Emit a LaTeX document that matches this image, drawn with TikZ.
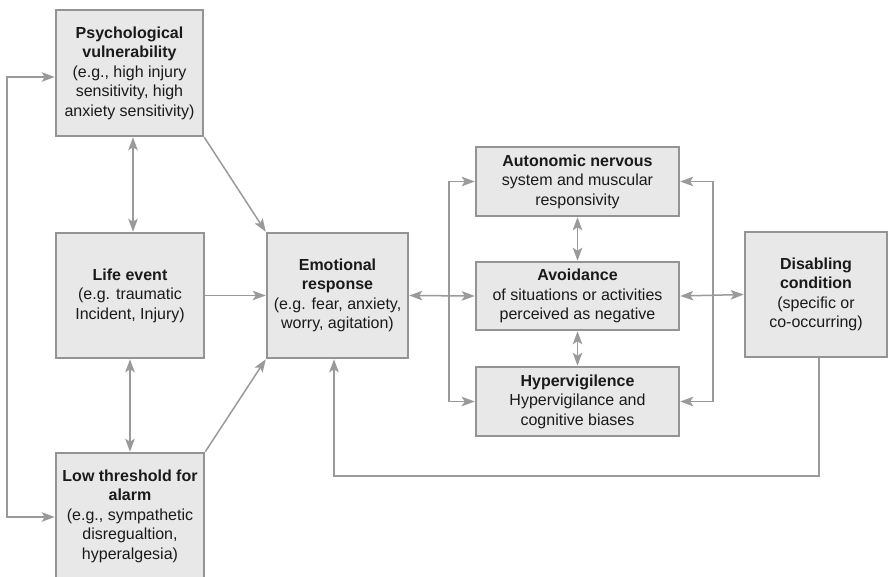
\documentclass[tikz,border=0pt]{standalone}
\usepackage{fontspec}
\setmainfont{Liberation Sans}
\usetikzlibrary{arrows.meta}
\definecolor{boxfill}{HTML}{E8E8E8}
\definecolor{boxline}{HTML}{949494}
\definecolor{connline}{HTML}{9A9A9A}
\definecolor{txt}{HTML}{1A1A1A}
\tikzset{
  box/.style={draw=boxline, fill=boxfill, line width=2.5pt, rectangle, align=center,
    inner sep=0pt, text=txt, font=\fontsize{16}{19.5}\selectfont},
  conn/.style={draw=connline, line width=1.5pt,
    arrows={-}, >={Stealth[length=13pt,width=9.5pt,inset=3pt]}},
}
\begin{document}
\begin{tikzpicture}[x=1pt,y=-1pt]
\useasboundingbox (0,0) rectangle (889,576);
\fill[white] (0,0) rectangle (889,576);
\begin{scope}
\clip (0,0) rectangle (889,576);
\node[box, minimum width=147pt, minimum height=126pt] (psych) at (129.5,73)
  {\textbf{Psychological}\\\textbf{vulnerability}\\(e.g., high injury\\sensitivity, high\\anxiety sensitivity)};
\node[box, minimum width=148pt, minimum height=125pt] (life) at (130,295.5)
  {\textbf{Life event}\\(e.g. traumatic\\Incident, Injury)};
\node[box, minimum width=148pt, minimum height=126pt] (low) at (130,516)
  {\textbf{Low threshold for}\\\textbf{alarm}\\(e.g., sympathetic\\disregualtion,\\hyperalgesia)};
\node[box, minimum width=141pt, minimum height=125pt] (emo) at (337.5,295.5)
  {\textbf{Emotional}\\\textbf{response}\\(e.g. fear, anxiety,\\worry, agitation)};
\node[box, minimum width=203pt, minimum height=69pt] (auto) at (577.5,181.5)
  {\textbf{Autonomic nervous}\\system and muscular\\responsivity};
\node[box, minimum width=203pt, minimum height=68pt] (avoid) at (577.5,296)
  {\textbf{Avoidance}\\of situations or activities\\perceived as negative};
\node[box, minimum width=203pt, minimum height=69pt] (hyper) at (577.5,401.5)
  {\textbf{Hypervigilence}\\Hypervigilance and\\cognitive biases};
\node[box, minimum width=142pt, minimum height=125pt] (dis) at (816,294.5)
  {\textbf{Disabling}\\\textbf{condition}\\(specific or\\co-occurring)};

\coordinate (lt) at (7,77);
\coordinate (lb) at (7,517);
\coordinate (bl) at (449,297);
\coordinate (br) at (713,296);
\coordinate (fb) at (334,476);

\draw[conn,<->] (psych.west |- lt) -- (lt) -- (lb) -- (low.west |- lb);
\draw[conn,<->] ([xshift=3.5pt]psych.south) -- ([xshift=3.5pt]psych.south |- life.north);
\draw[conn,<->] (life.south) -- (low.north);
\draw[conn,->] (psych.south east) -- (emo.north west);
\draw[conn,->] (low.north east) -- (emo.south west);
\draw[conn,->] (life.east) -- (emo.west);
\draw[conn,<->] (emo.east) -- (avoid.west);
\draw[conn,->] (bl) |- (auto.west);
\draw[conn,->] (bl) |- (hyper.west);
\draw[conn,->] (br) |- (auto.east);
\draw[conn,->] (br) |- (hyper.east);
\draw[conn,<->] (avoid.east) -- (dis.west);
\draw[conn,<->] (auto.south) -- (avoid.north);
\draw[conn,<->] (avoid.south) -- (hyper.north);
\draw[conn,->] ([xshift=3pt]dis.south) |- (fb) -- ([xshift=-3.5pt]emo.south);
\end{scope}
\end{tikzpicture}
\end{document}
